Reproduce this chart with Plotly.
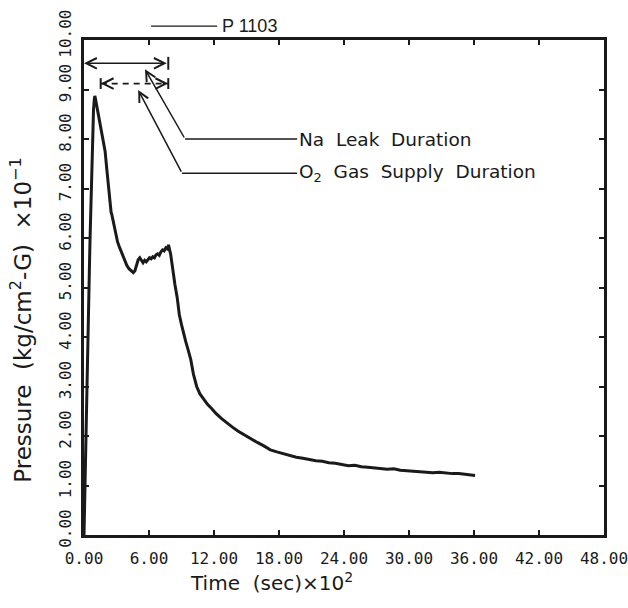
import plotly.graph_objects as go

# Time (sec) x10^2
time = [
    0.00, 0.05, 0.12, 0.18, 0.24, 0.30, 0.36, 0.42, 0.50, 0.56,
    0.64, 0.72, 0.80, 0.88, 0.95, 1.00, 1.05, 1.15, 1.30, 1.45,
    1.60, 1.80, 1.95, 2.10, 2.25, 2.40, 2.50, 2.56, 2.65, 2.80,
    2.95, 3.10, 3.30, 3.50, 3.70, 3.95, 4.15, 4.35, 4.55, 4.70,
    4.85, 5.00, 5.15, 5.30, 5.45, 5.60, 5.75, 5.90, 6.05, 6.20,
    6.35, 6.50, 6.65, 6.80, 6.95, 7.10, 7.25, 7.40, 7.55, 7.70,
    7.80, 8.00, 8.20, 8.40, 8.60, 8.80, 9.00, 9.20, 9.40, 9.60,
    9.85, 10.1, 10.4, 10.7, 11.0, 11.4, 11.8, 12.2, 12.7, 13.2,
    13.7, 14.2, 14.8, 15.4, 16.0, 16.6, 17.2, 17.8, 18.4, 19.0,
    19.6, 20.2, 20.8, 21.4, 22.0, 22.6, 23.2, 23.8, 24.4, 25.0,
    25.6, 26.2, 26.8, 27.4, 28.0, 28.6, 29.2, 29.8, 30.4, 31.0,
    31.6, 32.2, 32.8, 33.4, 34.0, 34.6, 35.2, 35.8, 36.1,
]
# Pressure (kg/cm2-G) x10^-1
pressure = [
    0.00, 0.60, 1.50, 2.30, 3.00, 3.70, 4.30, 4.80, 5.40, 6.00,
    6.70, 7.40, 8.10, 8.60, 8.80, 8.87, 8.82, 8.70, 8.50, 8.30,
    8.15, 7.95, 7.75, 7.40, 7.00, 6.65, 6.52, 6.48, 6.38, 6.20,
    6.05, 5.92, 5.80, 5.68, 5.58, 5.45, 5.38, 5.33, 5.30, 5.34,
    5.45, 5.56, 5.60, 5.54, 5.50, 5.55, 5.52, 5.56, 5.60, 5.58,
    5.62, 5.60, 5.66, 5.68, 5.65, 5.72, 5.76, 5.74, 5.80, 5.78,
    5.86, 5.67, 5.30, 5.05, 4.80, 4.45, 4.25, 4.06, 3.90, 3.75,
    3.55, 3.25, 3.00, 2.85, 2.75, 2.64, 2.55, 2.45, 2.35, 2.26,
    2.18, 2.10, 2.02, 1.94, 1.87, 1.80, 1.72, 1.68, 1.64, 1.60,
    1.57, 1.55, 1.52, 1.50, 1.49, 1.46, 1.45, 1.43, 1.40, 1.41,
    1.38, 1.37, 1.36, 1.35, 1.33, 1.34, 1.31, 1.30, 1.29, 1.28,
    1.28, 1.26, 1.27, 1.25, 1.24, 1.24, 1.22, 1.21, 1.20,
]

x_ticks = [0, 6, 12, 18, 24, 30, 36, 42, 48]
y_ticks = [0, 1, 2, 3, 4, 5, 6, 7, 8, 9, 10]

series_name = "P 1103"
na_leak = [0.0, 7.78]        # Na leak duration (x10^2 s)
o2_supply = [1.54, 7.78]     # O2 gas supply duration (x10^2 s)
na_level = 9.53
o2_level = 9.12
na_label = "Na  Leak  Duration"
o2_label = "O<sub>2</sub>  Gas  Supply  Duration"
# leader lines: tip (t, p), corner (t, p), end t
na_leader = [(5.63, 9.41), (9.33, 8.0), 19.67]
o2_leader = [(5.0, 8.99), (9.05, 7.31), 19.67]

INK = "#1a1a1a"
TICKFONT = dict(family="DejaVu Sans Mono, Liberation Mono, monospace", size=16, color=INK)
TXT = "DejaVu Sans, Liberation Sans, sans-serif"

fig = go.Figure()
fig.add_trace(go.Scatter(x=time, y=pressure, mode="lines", name=series_name,
                         line=dict(color=INK, width=3), showlegend=False))

shapes = []
annotations = []

# Na leak double arrow (solid)
annotations.append(dict(x=na_leak[0], y=na_level, ax=na_leak[1], ay=na_level,
                        xref="x", yref="y", axref="x", ayref="y", text="",
                        showarrow=True, arrowside="end+start", arrowhead=5,
                        startarrowhead=5, arrowsize=1.3, startarrowsize=1.3,
                        arrowwidth=1.6, arrowcolor=INK, standoff=0, startstandoff=0))
shapes.append(dict(type="line", xref="x", yref="y", x0=na_leak[1], x1=na_leak[1],
                   y0=na_level - 0.13, y1=na_level + 0.13, line=dict(color=INK, width=2)))

# O2 supply double arrow (dashed)
shapes.append(dict(type="line", xref="x", yref="y", x0=o2_supply[0], x1=o2_supply[1],
                   y0=o2_level, y1=o2_level, line=dict(color=INK, width=1.8, dash="6px,5px")))
for xe in o2_supply:
    shapes.append(dict(type="line", xref="x", yref="y", x0=xe, x1=xe,
                       y0=o2_level - 0.11, y1=o2_level + 0.11, line=dict(color=INK, width=2)))
annotations.append(dict(x=o2_supply[0], y=o2_level, ax=o2_supply[0] + 0.6, ay=o2_level,
                        xref="x", yref="y", axref="x", ayref="y", text="",
                        showarrow=True, arrowhead=5, arrowsize=1.3, arrowwidth=1.6,
                        arrowcolor=INK, standoff=0))
annotations.append(dict(x=o2_supply[1], y=o2_level, ax=o2_supply[1] - 0.6, ay=o2_level,
                        xref="x", yref="y", axref="x", ayref="y", text="",
                        showarrow=True, arrowhead=5, arrowsize=1.3, arrowwidth=1.6,
                        arrowcolor=INK, standoff=0))

# leader lines with labels
for (tip, corner, xend), label in ((na_leader, na_label), (o2_leader, o2_label)):
    annotations.append(dict(x=tip[0], y=tip[1], ax=corner[0], ay=corner[1],
                            xref="x", yref="y", axref="x", ayref="y", text="",
                            showarrow=True, arrowhead=5, arrowsize=1.3, arrowwidth=1.5,
                            arrowcolor=INK, standoff=0))
    shapes.append(dict(type="line", xref="x", yref="y", x0=corner[0], x1=xend,
                       y0=corner[1], y1=corner[1], line=dict(color=INK, width=1.5)))
    annotations.append(dict(x=xend, y=corner[1], xref="x", yref="y", text=label,
                            showarrow=False, xanchor="left", yanchor="middle",
                            font=dict(family=TXT, size=18.5, color=INK)))

# series key above plot
shapes.append(dict(type="line", xref="paper", yref="paper", x0=0.129, x1=0.256,
                   y0=1.028, y1=1.028, line=dict(color=INK, width=1.2)))
annotations.append(dict(x=0.262, y=1.028, xref="paper", yref="paper", text=series_name,
                        showarrow=False, xanchor="left", yanchor="middle",
                        font=dict(family="Liberation Sans, sans-serif", size=18, color=INK)))

# axis titles
annotations.append(dict(x=-0.12, y=0.434, xref="paper", yref="paper",
                        text="Pressure  (kg/cm<sup>2</sup>-G)  ×10<sup>−1</sup>",
                        textangle=-90, showarrow=False, xanchor="center", yanchor="middle",
                        font=dict(family=TXT, size=23, color=INK)))
annotations.append(dict(x=0.36, y=-0.095, xref="paper", yref="paper",
                        text="Time  (sec)×10<sup>2</sup>",
                        showarrow=False, xanchor="center", yanchor="middle",
                        font=dict(family=TXT, size=20, color=INK)))

axis_common = dict(showline=True, linewidth=2.5, linecolor=INK, mirror="ticks",
                   ticks="inside", ticklen=5, tickwidth=1.5, tickcolor=INK,
                   showgrid=False, zeroline=False, tickformat=".2f", tickfont=TICKFONT,
                   ticklabeloverflow="allow")

fig.update_layout(
    width=628, height=608,
    margin=dict(l=84, r=24, t=40, b=73, autoexpand=False),
    paper_bgcolor="white", plot_bgcolor="white",
    xaxis=dict(range=[0, 48], tickvals=x_ticks, ticklabelstandoff=7, **axis_common),
    yaxis=dict(range=[0, 10], tickvals=y_ticks, tickangle=-90, ticklabelshift=-4,
               ticklabelstandoff=4, **axis_common),
    shapes=shapes, annotations=annotations, showlegend=False,
)

fig.write_html("out.html")
